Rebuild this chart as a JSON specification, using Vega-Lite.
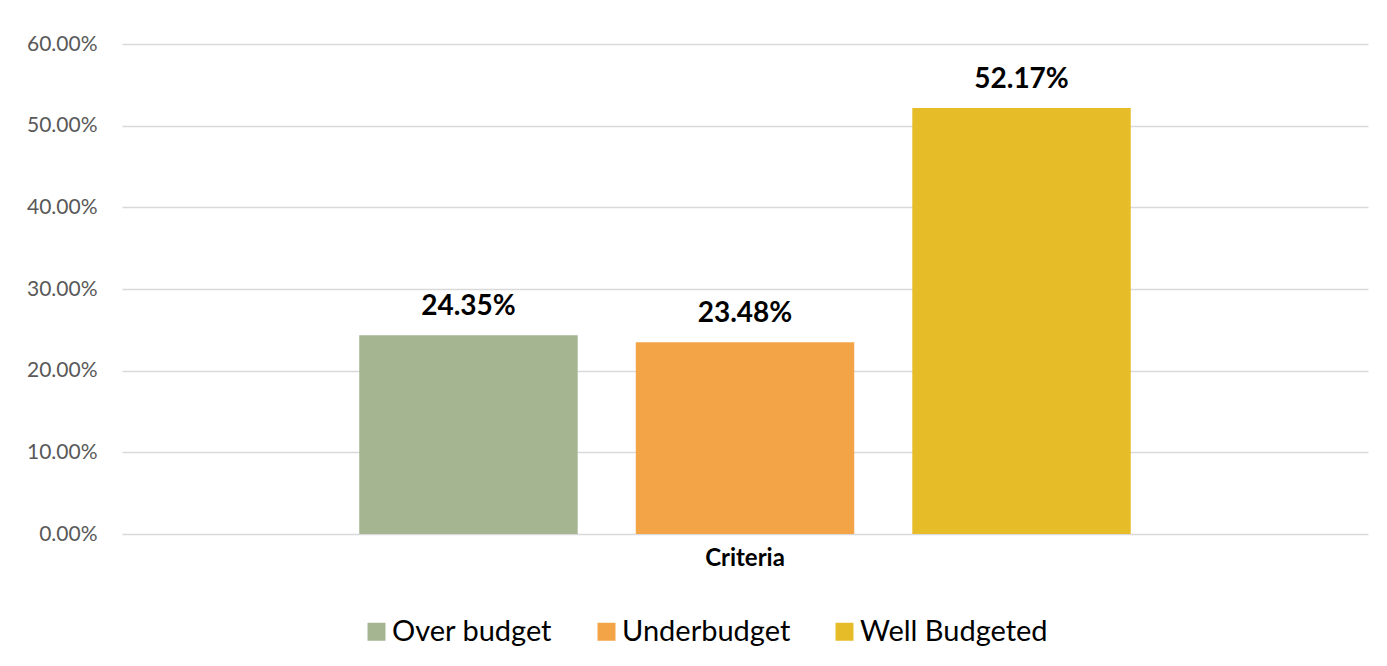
{
  "$schema": "https://vega.github.io/schema/vega-lite/v6.json",
  "width": 1246,
  "height": 490,
  "autosize": {"type": "none"},
  "padding": {"left": 122, "top": 44, "right": 19, "bottom": 132},
  "background": "white",
  "config": {
    "font": "Lato",
    "view": {"stroke": null}
  },
  "data": {
    "values": [
      {"group": "Criteria", "series": "Over budget", "value": 0.2435},
      {"group": "Criteria", "series": "Underbudget", "value": 0.2348},
      {"group": "Criteria", "series": "Well Budgeted", "value": 0.5217}
    ]
  },
  "encoding": {
    "x": {
      "field": "group",
      "type": "nominal",
      "scale": {"paddingInner": 0, "paddingOuter": 0.3075},
      "axis": {
        "title": null,
        "domain": false,
        "ticks": false,
        "tickSize": 0,
        "labelAngle": 0,
        "labelFont": "Lato",
        "labelFontSize": 24,
        "labelFontWeight": "bold",
        "labelColor": "#000000",
        "labelPadding": 12
      }
    },
    "xOffset": {
      "field": "series",
      "type": "nominal",
      "scale": {"paddingInner": 0.21, "paddingOuter": 0}
    },
    "y": {
      "field": "value",
      "type": "quantitative",
      "scale": {"domain": [0, 0.6], "nice": false},
      "axis": {
        "title": null,
        "values": [0, 0.1, 0.2, 0.3, 0.4, 0.5, 0.6],
        "format": ".2%",
        "domain": false,
        "ticks": false,
        "tickSize": 0,
        "grid": true,
        "gridColor": "#D9D9D9",
        "gridWidth": 1.5,
        "labelFont": "Lato",
        "labelFontSize": 21,
        "labelColor": "#595959",
        "labelPadding": 25
      }
    }
  },
  "layer": [
    {
      "mark": {"type": "bar"},
      "encoding": {
        "color": {
          "field": "series",
          "type": "nominal",
          "scale": {
            "domain": ["Over budget", "Underbudget", "Well Budgeted"],
            "range": ["#A5B592", "#F3A447", "#E7BC29"]
          },
          "legend": {
            "title": null,
            "orient": "none",
            "direction": "horizontal",
            "legendX": 240,
            "legendY": 573,
            "symbolType": "square",
            "symbolSize": 324,
            "symbolStrokeWidth": 0,
            "labelFont": "Lato",
            "labelFontSize": 29,
            "labelColor": "#000000",
            "labelOffset": 1,
            "labelLimit": 400,
            "columnPadding": 39,
            "padding": 0
          }
        }
      }
    },
    {
      "mark": {
        "type": "text",
        "dy": -20,
        "baseline": "alphabetic",
        "font": "Lato",
        "fontSize": 28,
        "fontWeight": "bold",
        "color": "#000000"
      },
      "encoding": {
        "text": {"field": "value", "type": "quantitative", "format": ".2%"}
      }
    }
  ]
}
